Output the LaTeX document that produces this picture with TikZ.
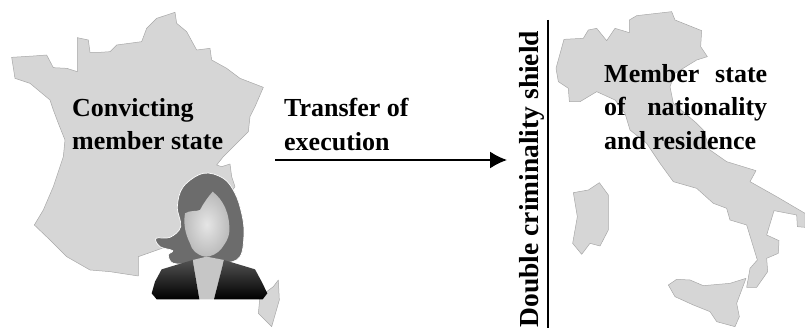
\documentclass[tikz,border=0pt]{standalone}
\usepackage{fontspec}
\usetikzlibrary{arrows.meta}
\setmainfont{Liberation Serif}
\definecolor{mapfill}{HTML}{D6D6D6}
\definecolor{mapedge}{HTML}{A8A8A8}
\definecolor{hairgray}{HTML}{6C6C6C}
\definecolor{skingray}{HTML}{C6C6C6}
\tikzset{
  land/.style={fill=mapfill, draw=mapedge, line width=0.5pt, line join=round},
  caption/.style={font=\bfseries\fontsize{26}{33.5}\selectfont, align=left, anchor=north west, inner sep=0pt},
  jacket/.style={bottom color=black, top color=black!68, draw=none}
}
\begin{document}
\begin{tikzpicture}[x=1pt, y=-1pt, >={Latex[length=17pt,width=17pt]}]
  \useasboundingbox (0,0) rectangle (805,328);
  \begin{scope}[scale=1/3]
    \draw[land] (35,172) -- (100,168) -- (140,165) -- (160,203) -- (200,205) -- (232,215) -- (232,113) -- (265,120) -- (270,157) -- (300,157) -- (330,155) -- (350,135) -- (425,125) -- (440,85) -- (470,55) -- (525,37) -- (530,70) -- (560,95) -- (590,150) -- (630,145) -- (635,180) -- (680,205) -- (720,235) -- (790,262) -- (765,320) -- (750,350) -- (745,395) -- (700,440) -- (670,470) -- (650,495) -- (665,500) -- (690,492) -- (695,530) -- (705,560) -- (600,700) -- (500,740) -- (415,770) -- (415,828) -- (330,815) -- (270,810) -- (200,770) -- (150,720) -- (103,675) -- (130,630) -- (160,560) -- (190,470) -- (195,420) -- (175,370) -- (160,330) -- (150,300) -- (90,250) -- (45,235) -- cycle;
    \draw[land] (835,840) -- (838,900) -- (815,980) -- (775,940) -- (780,890) -- (820,860) -- cycle;
  \end{scope}
  \begin{scope}[shift={(500,0)}, scale=1/3]
    \draw[land] (192,118) -- (250,115) -- (265,90) -- (290,85) -- (320,122) -- (345,85) -- (388,98) -- (388,60) -- (410,47) -- (515,35) -- (525,60) -- (605,92) -- (602,140) -- (622,170) -- (590,180) -- (525,220) -- (510,260) -- (520,310) -- (590,370) -- (610,390) -- (630,450) -- (680,485) -- (768,512) -- (750,545) -- (830,590) -- (915,640) -- (915,682) -- (892,680) -- (890,645) -- (822,632) -- (800,705) -- (837,722) -- (835,760) -- (800,775) -- (803,815) -- (770,862) -- (740,862) -- (750,805) -- (772,780) -- (740,675) -- (690,660) -- (680,625) -- (640,610) -- (590,565) -- (520,545) -- (480,490) -- (440,430) -- (390,390) -- (375,340) -- (345,300) -- (290,275) -- (240,305) -- (208,305) -- (205,265) -- (175,245) -- (168,205) -- cycle;
    \draw[land] (220,578) -- (265,570) -- (298,548) -- (325,585) -- (325,690) -- (300,738) -- (270,730) -- (245,763) -- (218,730) -- (232,650) -- cycle;
    \draw[land] (505,855) -- (530,838) -- (570,840) -- (610,857) -- (690,850) -- (738,835) -- (710,910) -- (718,950) -- (705,980) -- (650,965) -- (630,935) -- (580,915) -- (525,890) -- cycle;
  \end{scope}
  \begin{scope}[shift={(140,160)}, scale=1/3]
    \fill[hairgray, draw=white, line width=0.7pt] plot[smooth cycle, tension=0.6] coordinates {(130,80) (190,40) (250,55) (285,100) (305,160) (312,220) (300,290) (250,310) (160,310) (100,310) (85,285) (98,272) (60,260) (48,235) (90,232) (122,200) (112,140)};
    \fill[skingray] (158,300) -- (200,290) -- (252,300) -- (222,418) -- (178,418) -- cycle;
    \shade[inner color=black!10, outer color=black!27] (135,160) .. controls (150,150) and (170,155) .. (180,150) .. controls (190,130) and (205,110) .. (218,95) .. controls (250,120) and (270,160) .. (268,215) .. controls (265,240) and (255,250) .. (245,265) .. controls (235,280) and (210,292) .. (195,290) .. controls (170,285) and (155,270) .. (150,250) .. controls (135,220) and (130,190) .. cycle;
    \shade[jacket] (158,300) -- (65,328) -- (45,365) -- (35,400) -- (50,418) -- (178,418) -- cycle;
    \shade[jacket] (252,300) -- (345,328) -- (365,365) -- (382,400) -- (368,418) -- (222,418) -- cycle;
  \end{scope}
  \node[caption] (convicting) at (72,98) {Convicting\\member state};
  \node[caption] (transfer) at (284,98) {Transfer of\\execution};
  \node[caption] (nationality) at (604,64) {\hbox to 163pt{Member\hfill state}\\\hbox to 163pt{of\hfill nationality}\\and residence};
  \node[caption, font=\bfseries\fontsize{27.5}{33}\selectfont, rotate=90, anchor=south west] (shield) at (545,327.5) {Double criminality shield};
  \coordinate (transferstart) at (275,160);
  \coordinate (transferend) at (507,160);
  \coordinate (shieldtop) at (548,20);
  \coordinate (shieldbottom) at (548,328);
  \draw[->, line width=1.6pt] (transferstart) -- (transferend);
  \draw[line width=1.6pt] (shieldtop) -- (shieldbottom);
\end{tikzpicture}
\end{document}
